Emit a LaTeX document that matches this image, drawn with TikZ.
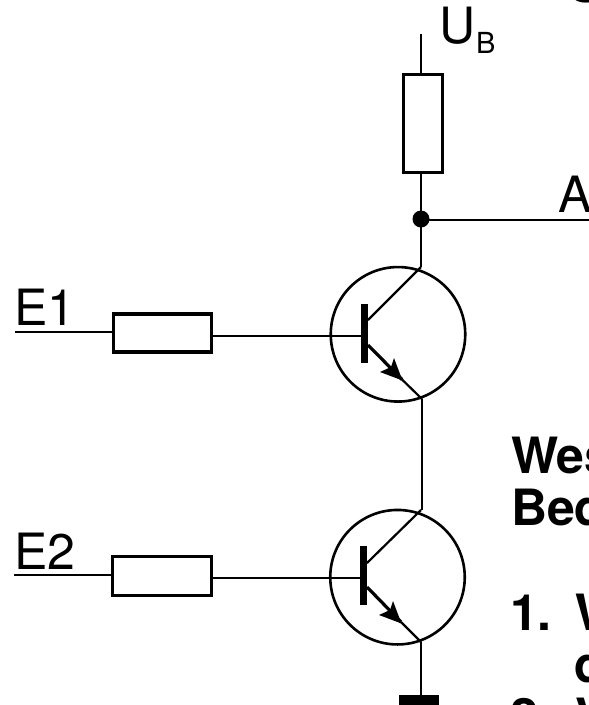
\documentclass[tikz,border=0pt]{standalone}
\usepackage{fontspec}
\setmainfont{TeX Gyre Heros}
\tikzset{
  wire/.style={line width=2.7pt,black},
  thick wire/.style={line width=3.2pt,black},
  thin wire/.style={line width=2.2pt,black},
  resistor/.style={draw,line width=3.8pt,rectangle,inner sep=0pt,outer sep=0pt,fill=white},
  tube/.style={draw,line width=2.6pt,circle,inner sep=0pt,outer sep=0pt,minimum size=134.5pt},
  basebar/.style={fill=black,rectangle,inner sep=0pt,outer sep=0pt,minimum width=7pt,minimum height=59pt},
  groundbar/.style={fill=black,rectangle,inner sep=0pt,outer sep=0pt,minimum width=40pt,minimum height=10pt},
  junction/.style={fill=black,circle,inner sep=0pt,outer sep=0pt,minimum size=17pt},
  big/.style={anchor=base west,inner sep=0pt,outer sep=0pt,font=\fontsize{50}{50}\selectfont},
  sub/.style={anchor=base west,inner sep=0pt,outer sep=0pt,font=\fontsize{29}{29}\selectfont},
  strong/.style={anchor=base west,inner sep=0pt,outer sep=0pt,font=\fontsize{50}{50}\selectfont\bfseries},
}
\begin{document}
\begin{tikzpicture}[x=1pt,y=-1pt]
\useasboundingbox (0,0) rectangle (589,705);
\clip (0,0) rectangle (589,705);
% named points
\coordinate (ub) at (421,34);
\coordinate (aend) at (589,220);
\coordinate (e1s) at (15,332);
\coordinate (e1r) at (112,332);
\coordinate (b1r) at (213,336);
\coordinate (b1b) at (361,336);
\coordinate (c1b) at (368,320);
\coordinate (c1) at (421,267);
\coordinate (em1b) at (368,345);
\coordinate (em1t) at (402,379.5);
\coordinate (em1) at (422,399);
\coordinate (e2s) at (14,575);
\coordinate (e2r) at (111,575);
\coordinate (b2r) at (213,578);
\coordinate (b2b) at (360,578);
\coordinate (c2b) at (367,563);
\coordinate (c2) at (421,510);
\coordinate (em2b) at (367,587);
\coordinate (em2t) at (401,622);
\coordinate (em2) at (421,642);
% shapes
\node[tube] (t1) at (398,334.3) {};
\node[tube] (t2) at (397.5,577.2) {};
\node[basebar] (bar1) at (364.5,333.5) {};
\node[basebar] (bar2) at (363.5,575.5) {};
\node[groundbar] (gnd) at (419,700) {};
% wires
\draw[wire] (ub) -- (421,73);
\draw[wire] (421,172) -- (c1);
\draw[wire] (em1) -- (em1 |- c2);
\draw[wire] (em2) -- (gnd.north -| em2);
\draw[wire] (421,220) -- (aend);
\draw[wire] (e1s) -- (e1r);
\draw[wire] (b1r) -- (b1b);
\draw[wire] (e2s) -- (e2r);
\draw[wire] (b2r) -- (b2b);
\draw[thin wire] (c1b) -- (c1);
\draw[thin wire] (c2b) -- (c2);
\draw[thick wire] (em1b) -- (em1t);
\draw[thin wire] (em1t) -- (em1);
\draw[thick wire] (em2b) -- (em2t);
\draw[thin wire] (em2t) -- (em2);
\fill (402.5,380.5) -- (394,358) -- (391,367) -- (380,372) -- cycle;
\fill (401.5,623.5) -- (393,601) -- (390,610) -- (379,615) -- cycle;
\node[junction] (dot) at (421,219) {};
% resistors
\node[resistor,minimum width=39pt,minimum height=98pt] (ru) at (423,123.5) {};
\node[resistor,minimum width=98pt,minimum height=38pt] (r1) at (162.5,333) {};
\node[resistor,minimum width=99pt,minimum height=39pt] (r2) at (162,576) {};
% labels
\node[big] (lu) at (439.5,43) {U};
\node[sub] (lb) at (476,53) {B};
\node[big] (la) at (558,212) {A};
\node[big] (le1) at (14,325) {E1};
\node[big] (le2) at (14,569) {E2};
\node[strong] (t0) at (569,2) {S};
\node[strong] (t1a) at (511,473) {Wes};
\node[strong] (t2a) at (511,525) {Bed};
\node[strong] (t3a) at (510,630) {1.};
\node[strong] (t3b) at (575,630) {W};
\node[strong] (t4a) at (574,682) {d};
\node[strong] (t5a) at (510,734) {2.};
\node[strong] (t5b) at (575,734) {V};
\end{tikzpicture}
\end{document}
